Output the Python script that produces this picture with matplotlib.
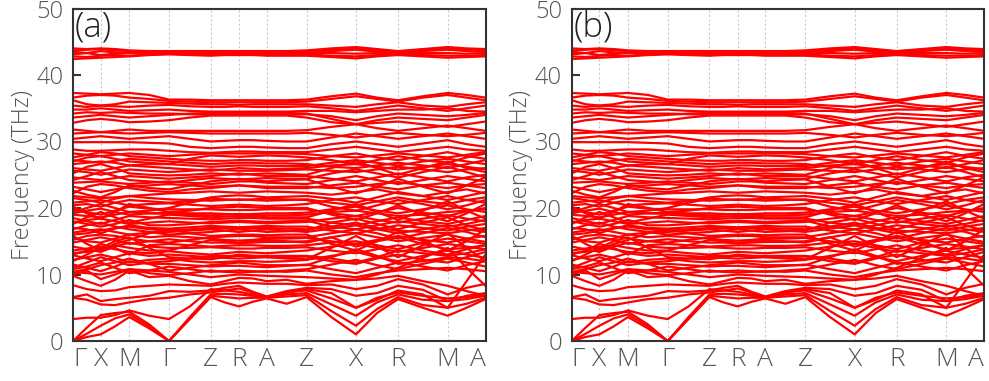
import numpy as np
import matplotlib
matplotlib.use("Agg")
import matplotlib.pyplot as plt

# ---------------- data ----------------
kpoint_labels = ["Γ", "X", "M", "Γ", "Z", "R", "A", "Z", "X", "R", "M", "A"]
kpoint_dist = [0, 27.7, 56.3, 96, 137.7, 166, 193.7, 233.7, 283, 325, 374.7, 412.5]
panel_labels = ["(a)", "(b)"]

# band frequencies (THz) at: Γ,m,X,m,M,m,Γ,m,Z,m,R,m,A,m,Z,m,X,m,R,m,M,m,A
low_bands = [
    [0, 0.6, 1.0, 2.2, 3.6, 1.9, 0, 3.3, 6.6, 5.8, 5.2, 5.9, 6.4, 5.6, 6.6, 3.6, 1.0, 4.2, 6.3, 5.0, 3.8, 5.0, 6.3],
    [0, 1.1, 2.3, 3.4, 4.0, 2.2, 0, 3.4, 6.8, 6.6, 6.4, 6.5, 6.5, 6.7, 6.9, 4.5, 2.3, 4.8, 6.6, 5.4, 5.0, 5.6, 6.5],
    [0, 2.0, 3.9, 4.2, 4.4, 2.5, 0, 3.6, 7.0, 7.1, 7.0, 6.8, 6.6, 7.0, 7.2, 5.5, 3.8, 5.8, 7.0, 6.2, 6.0, 6.3, 6.8],
    [3.3, 3.5, 3.5, 3.9, 4.6, 3.8, 3.3, 5.2, 7.8, 7.6, 7.4, 7.0, 6.6, 7.4, 7.6, 6.4, 5.0, 6.5, 7.3, 6.8, 6.4, 6.6, 7.0],
    [6.5, 6.2, 5.5, 5.4, 5.8, 6.3, 6.5, 7.0, 7.3, 7.6, 7.9, 7.3, 6.5, 7.2, 7.8, 7.2, 5.0, 6.2, 7.6, 7.0, 5.0, 9.0, 13.0],
    [6.6, 7.0, 6.0, 6.3, 6.5, 6.8, 7.5, 7.4, 7.6, 8.0, 8.3, 7.4, 6.7, 7.5, 8.0, 7.8, 6.8, 7.2, 8.3, 7.7, 6.0, 6.8, 7.2],
    [8.4, 7.8, 7.5, 7.6, 8.1, 8.3, 8.5, 8.4, 8.3, 8.6, 8.8, 8.7, 8.6, 8.6, 8.4, 8.5, 7.8, 8.3, 9.3, 8.5, 7.0, 8.0, 8.6],
    [9.8, 9.0, 8.3, 9.2, 10.6, 9.6, 9.8, 9.0, 8.5, 9.0, 9.5, 9.4, 9.0, 9.2, 8.6, 9.0, 9.2, 9.4, 9.8, 9.0, 8.3, 7.5, 6.8],
    [10.0, 10.6, 9.3, 10.0, 10.8, 10.2, 9.9, 10.2, 10.6, 10.4, 10.3, 10.4, 10.5, 10.4, 10.6, 10.0, 9.6, 10.2, 10.6, 10.8, 11.0, 10.8, 10.5],
    [10.4, 10.2, 10.0, 10.4, 10.8, 10.6, 10.4, 10.0, 9.6, 9.8, 10.0, 9.9, 9.8, 9.7, 9.6, 9.4, 9.2, 10.0, 11.0, 12.5, 14.0, 11.0, 8.3],
]

mid_bands = [
    [10.8, 11.2, 11.8, 11.0, 10.2, 10.6, 11.2, 10.8, 10.4, 10.5, 10.6, 10.5, 10.4, 10.6, 10.8, 11.5, 12.2, 11.4, 10.8, 11.6, 12.4, 11.8, 11.2],
    [11.5, 11.0, 10.5, 11.2, 12.0, 11.6, 11.6, 11.4, 11.2, 11.3, 11.3, 11.2, 11.1, 11.3, 11.5, 10.8, 10.2, 11.0, 11.8, 11.2, 10.6, 11.4, 12.0],
    [12.2, 12.6, 13.0, 12.5, 11.8, 12.2, 12.4, 12.0, 11.8, 11.9, 12.0, 12.0, 11.9, 12.0, 12.2, 12.8, 13.4, 12.6, 12.0, 12.8, 13.6, 13.0, 12.5],
    [12.9, 12.4, 12.0, 12.6, 13.2, 12.8, 13.0, 12.8, 12.6, 12.5, 12.4, 12.5, 12.6, 12.6, 12.7, 12.0, 11.6, 12.4, 13.0, 12.2, 11.8, 12.6, 13.4],
    [13.6, 13.9, 14.2, 13.8, 13.4, 13.2, 13.5, 13.2, 13.0, 13.2, 13.4, 13.3, 13.2, 13.4, 13.6, 14.2, 14.6, 14.0, 13.4, 14.0, 14.6, 14.2, 13.8],
    [14.2, 13.8, 13.4, 14.2, 14.8, 14.2, 14.0, 14.0, 14.1, 14.0, 13.9, 13.9, 14.0, 14.0, 14.1, 13.6, 13.2, 13.8, 14.4, 13.6, 13.0, 13.8, 14.4],
    [14.8, 15.2, 15.6, 15.2, 14.6, 15.0, 15.3, 15.0, 14.8, 14.8, 14.7, 14.8, 14.9, 14.9, 15.0, 15.6, 16.2, 15.6, 15.0, 15.5, 16.0, 15.4, 14.9],
    [15.5, 15.0, 14.8, 15.4, 16.0, 15.6, 15.8, 15.6, 15.4, 15.2, 15.1, 15.2, 15.4, 15.4, 15.5, 15.0, 14.6, 15.2, 15.8, 15.2, 14.8, 15.4, 15.8],
    [16.3, 16.6, 16.8, 16.4, 16.0, 16.3, 16.4, 16.6, 16.8, 16.6, 16.4, 16.6, 16.8, 16.6, 16.4, 16.9, 17.4, 16.8, 16.2, 16.8, 17.4, 16.8, 16.4],
    [17.0, 16.8, 16.2, 16.9, 17.4, 17.0, 16.9, 17.1, 17.3, 17.2, 17.1, 17.2, 17.3, 17.2, 17.2, 16.6, 16.2, 16.8, 17.4, 17.0, 16.6, 17.2, 17.6],
    [17.8, 18.2, 18.4, 18.0, 17.6, 17.8, 18.0, 17.8, 17.7, 17.8, 17.9, 17.8, 17.7, 17.8, 17.9, 18.4, 18.8, 18.2, 17.8, 18.4, 18.9, 18.4, 18.0],
    [18.5, 18.0, 17.6, 18.2, 18.8, 18.6, 18.5, 18.4, 18.3, 18.4, 18.5, 18.5, 18.4, 18.4, 18.4, 17.8, 17.4, 18.0, 18.6, 18.0, 17.6, 18.2, 18.8],
    [19.2, 19.6, 19.9, 19.4, 19.0, 19.2, 19.3, 19.2, 19.2, 19.1, 19.0, 19.1, 19.2, 19.2, 19.3, 19.8, 20.2, 19.6, 19.2, 19.8, 20.4, 19.8, 19.4],
    [19.8, 19.4, 19.0, 19.6, 20.2, 19.9, 19.8, 19.8, 19.8, 19.7, 19.7, 19.7, 19.8, 19.8, 19.8, 19.2, 18.8, 19.4, 20.0, 19.3, 18.8, 19.5, 20.0],
    [20.8, 21.0, 21.2, 20.8, 20.4, 20.6, 20.7, 20.5, 20.3, 20.4, 20.5, 20.4, 20.3, 20.4, 20.6, 21.2, 21.6, 21.0, 20.6, 21.2, 21.8, 21.2, 20.8],
    [21.5, 21.2, 20.8, 21.4, 21.8, 21.5, 21.3, 21.2, 21.1, 21.2, 21.3, 21.2, 21.1, 21.2, 21.3, 20.8, 20.4, 21.0, 21.6, 21.0, 20.6, 21.2, 21.6],
    [21.8, 21.6, 21.5, 21.6, 21.8, 22.0, 22.2, 22.3, 22.5, 22.4, 22.3, 22.4, 22.5, 22.4, 22.3, 22.0, 22.4, 22.8, 22.2, 21.8, 22.4, 22.8, 22.2],
    [22.2, 23.2, 23.6, 23.4, 23.0, 22.6, 22.4, 22.8, 23.0, 23.2, 23.4, 23.2, 23.0, 23.0, 23.0, 23.4, 23.8, 23.2, 22.8, 23.4, 23.8, 23.4, 23.0],
    [23.8, 23.9, 24.0, 23.8, 23.6, 23.8, 24.0, 23.8, 23.6, 23.8, 24.0, 24.0, 23.8, 23.7, 23.6, 24.2, 24.8, 24.2, 23.6, 24.2, 24.8, 24.4, 24.0],
    [24.6, 24.4, 24.2, 24.5, 24.8, 24.6, 24.4, 24.6, 24.8, 25.0, 25.2, 25.0, 24.8, 24.8, 24.8, 24.4, 24.0, 24.6, 25.2, 24.6, 24.0, 24.6, 25.0],
    [25.6, 25.4, 25.0, 25.4, 25.8, 25.6, 25.4, 25.6, 25.8, 25.7, 25.6, 25.6, 25.6, 25.7, 25.8, 25.6, 25.4, 25.8, 26.2, 25.8, 25.4, 25.8, 26.0],
    [26.6, 26.8, 27.0, 26.8, 26.4, 26.6, 26.6, 26.4, 26.2, 26.3, 26.4, 26.4, 26.3, 26.3, 26.3, 26.8, 27.2, 26.8, 26.4, 27.0, 27.4, 27.0, 26.6],
    [27.2, 27.0, 26.8, 27.1, 27.4, 27.2, 27.0, 26.8, 26.6, 26.7, 26.8, 26.8, 26.7, 26.7, 26.6, 26.2, 26.0, 26.4, 26.8, 26.4, 26.0, 26.6, 27.2],
    [27.6, 28.0, 28.4, 28.2, 27.8, 27.6, 27.4, 27.2, 27.1, 27.1, 27.2, 27.2, 27.1, 27.1, 27.2, 27.8, 28.2, 27.6, 27.2, 27.8, 28.4, 27.8, 27.4],
    [28.8, 28.6, 28.6, 28.7, 28.8, 28.8, 28.6, 28.4, 28.3, 28.4, 28.5, 28.5, 28.4, 28.4, 28.4, 28.8, 29.2, 28.8, 28.4, 28.8, 29.2, 28.8, 28.6],
    [29.9, 29.9, 29.9, 29.9, 29.9, 29.8, 29.7, 29.2, 29.0, 29.1, 29.2, 29.2, 29.1, 29.0, 29.0, 29.6, 30.0, 29.6, 29.2, 29.7, 30.2, 29.6, 29.2],
]

cross_bands = [
    [12.0, 13.0, 14.0, 15.0, 15.6, 14.0, 12.6, 12.4, 12.3, 12.6, 13.0, 12.8, 12.6, 12.4, 12.3, 14.0, 15.8, 14.2, 12.6, 14.4, 16.2, 14.0, 12.0],
    [15.8, 14.6, 13.6, 14.6, 15.2, 16.2, 16.8, 16.2, 15.8, 15.9, 16.0, 16.0, 15.9, 16.0, 16.0, 14.6, 13.6, 15.0, 16.4, 15.0, 13.6, 15.0, 16.8],
    [17.6, 18.6, 19.4, 18.6, 17.8, 18.4, 19.0, 18.8, 18.6, 18.7, 18.8, 18.8, 18.6, 18.6, 18.6, 19.6, 20.6, 19.4, 18.2, 19.6, 21.0, 19.6, 18.4],
    [20.2, 19.2, 18.4, 19.4, 20.6, 20.0, 19.4, 19.6, 20.0, 20.1, 20.2, 20.1, 20.0, 20.0, 20.0, 19.0, 18.2, 19.2, 20.4, 19.0, 18.0, 19.2, 20.6],
    [22.6, 22.0, 21.6, 22.4, 23.4, 23.0, 22.8, 23.4, 24.0, 24.2, 24.4, 24.2, 24.0, 24.2, 24.3, 23.2, 22.2, 23.2, 24.4, 23.2, 22.2, 23.4, 24.6],
    [25.2, 26.2, 26.6, 26.0, 25.2, 25.0, 24.9, 25.0, 25.2, 25.1, 25.0, 25.1, 25.2, 25.1, 25.0, 26.0, 27.0, 26.0, 25.0, 26.0, 27.0, 26.0, 25.4],
    [13.2, 13.4, 13.8, 14.4, 14.0, 13.6, 13.6, 14.4, 15.2, 15.0, 14.8, 15.0, 15.2, 15.0, 14.8, 15.6, 14.2, 15.0, 15.6, 14.6, 13.8, 14.0, 14.4],
    [11.0, 11.8, 12.6, 12.0, 11.4, 11.8, 12.0, 12.4, 12.8, 12.8, 12.8, 12.8, 12.8, 12.8, 12.8, 12.4, 11.8, 12.6, 13.6, 13.2, 12.8, 13.2, 13.8],
    [16.8, 17.4, 17.8, 17.2, 16.8, 16.4, 16.0, 16.2, 16.4, 16.6, 16.8, 16.6, 16.4, 16.5, 16.6, 17.8, 18.4, 17.6, 16.8, 17.8, 18.6, 17.4, 16.6],
    [24.2, 24.8, 25.4, 24.8, 24.2, 24.0, 23.8, 24.2, 24.5, 24.4, 24.3, 24.4, 24.5, 24.4, 24.4, 25.2, 25.8, 25.2, 24.6, 25.4, 26.2, 25.4, 24.6],
    [19.4, 20.0, 20.6, 20.0, 19.4, 19.6, 20.0, 20.8, 21.4, 21.3, 21.2, 21.3, 21.4, 21.3, 21.2, 20.2, 19.6, 20.4, 21.2, 20.6, 19.8, 20.4, 21.2],
    [27.0, 27.6, 27.8, 27.4, 27.0, 26.8, 26.6, 27.4, 27.9, 27.8, 27.7, 27.8, 27.9, 27.8, 27.6, 27.2, 26.6, 27.2, 27.8, 27.2, 26.8, 27.6, 28.2],
    [10.4, 10.8, 11.4, 11.8, 12.4, 11.6, 10.6, 11.0, 11.4, 11.6, 11.8, 11.6, 11.4, 11.4, 11.4, 12.6, 13.8, 12.8, 11.6, 12.0, 12.6, 12.4, 12.0],
    [13.0, 13.6, 14.6, 14.0, 13.0, 14.4, 14.6, 14.4, 14.2, 14.3, 14.4, 14.4, 14.3, 14.3, 14.4, 14.8, 15.0, 14.4, 13.8, 14.8, 15.4, 15.0, 14.6],
    [15.2, 15.8, 16.0, 15.8, 15.4, 15.0, 14.8, 15.2, 15.6, 15.7, 15.8, 15.8, 15.6, 15.6, 15.6, 16.2, 16.8, 16.2, 15.4, 16.2, 17.0, 16.4, 15.6],
    [18.0, 17.6, 17.2, 17.6, 18.2, 17.4, 17.4, 17.6, 17.9, 18.0, 18.1, 18.0, 17.9, 18.0, 18.1, 17.2, 16.8, 17.4, 18.0, 17.6, 17.2, 17.6, 18.2],
    [20.4, 20.6, 20.2, 20.8, 21.2, 21.0, 20.8, 21.0, 21.6, 21.8, 21.9, 21.8, 21.6, 21.7, 21.8, 21.4, 20.8, 21.6, 22.4, 21.8, 21.2, 21.8, 22.4],
    [23.2, 22.8, 22.4, 22.8, 23.2, 23.4, 23.6, 23.4, 23.2, 23.3, 23.4, 23.3, 23.2, 23.2, 23.2, 23.0, 23.2, 23.6, 23.9, 23.4, 23.0, 23.4, 23.6],
    [26.0, 25.8, 25.6, 26.0, 26.4, 26.2, 26.0, 25.8, 25.6, 25.8, 26.0, 25.9, 25.8, 25.9, 26.0, 26.4, 26.6, 26.2, 25.8, 26.2, 26.6, 26.2, 25.8],
    [28.2, 28.0, 27.8, 28.0, 28.2, 28.0, 27.8, 28.0, 28.2, 28.2, 28.2, 28.2, 28.2, 28.2, 28.1, 27.8, 27.6, 27.9, 28.2, 27.9, 27.6, 28.0, 28.4],
    [16.0, 16.2, 16.6, 17.0, 17.2, 16.8, 16.6, 16.8, 17.0, 17.0, 17.0, 17.0, 17.0, 16.9, 16.8, 17.2, 17.8, 17.0, 16.6, 16.4, 16.2, 16.6, 17.0],
    [19.0, 18.8, 18.6, 19.0, 19.4, 19.2, 19.1, 19.0, 18.9, 19.0, 19.1, 19.0, 18.9, 18.9, 19.0, 19.4, 19.6, 19.2, 18.8, 19.0, 19.4, 19.6, 19.8],
]

high_bands = [
    [37.3, 37.2, 37.1, 37.2, 37.3, 37.0, 36.3, 36.3, 36.2, 36.2, 36.2, 36.2, 36.2, 36.2, 36.3, 36.8, 37.2, 36.6, 36.2, 36.8, 37.3, 37.0, 36.6],
    [36.6, 36.9, 37.0, 36.9, 36.6, 36.4, 36.1, 36.0, 35.9, 35.9, 35.9, 35.9, 35.9, 35.9, 36.0, 36.4, 36.8, 36.4, 36.0, 36.6, 37.0, 36.6, 36.2],
    [36.2, 35.6, 35.4, 35.6, 36.0, 35.9, 35.8, 35.7, 35.6, 35.6, 35.5, 35.6, 35.6, 35.6, 35.6, 35.4, 35.2, 35.6, 35.9, 35.4, 35.2, 35.6, 35.9],
    [35.4, 35.2, 35.4, 35.3, 35.2, 35.4, 35.5, 35.3, 35.2, 35.2, 35.3, 35.2, 35.2, 35.2, 35.3, 35.0, 34.6, 35.0, 35.4, 35.0, 34.6, 35.0, 35.4],
    [34.8, 34.8, 35.0, 34.8, 34.6, 34.7, 34.8, 34.6, 34.5, 34.5, 34.5, 34.5, 34.5, 34.5, 34.6, 34.6, 34.4, 34.6, 34.8, 34.8, 35.0, 34.6, 34.5],
    [34.2, 34.4, 34.3, 34.4, 34.3, 34.2, 34.2, 34.1, 34.0, 34.0, 34.0, 34.0, 34.0, 34.0, 34.1, 33.8, 33.2, 33.8, 34.2, 34.0, 33.8, 34.0, 34.3],
    [33.6, 33.8, 34.0, 33.8, 33.6, 33.8, 34.0, 34.2, 34.3, 34.3, 34.3, 34.3, 34.3, 34.3, 34.2, 33.4, 32.6, 33.2, 33.6, 33.4, 33.2, 33.6, 34.0],
    [32.8, 33.2, 33.4, 33.2, 32.9, 33.0, 33.2, 33.6, 33.9, 33.9, 33.9, 33.9, 33.9, 33.9, 33.6, 32.9, 32.6, 32.8, 33.0, 32.6, 32.2, 32.6, 33.0],
    [31.8, 31.6, 31.4, 31.6, 31.8, 31.6, 31.6, 31.6, 31.6, 31.6, 31.6, 31.6, 31.6, 31.6, 31.7, 32.2, 32.6, 32.0, 31.6, 32.0, 32.4, 32.0, 31.6],
    [31.2, 31.3, 31.4, 31.3, 31.2, 31.3, 31.4, 31.3, 31.2, 31.2, 31.2, 31.2, 31.2, 31.2, 31.3, 31.0, 30.6, 31.0, 31.3, 31.0, 30.8, 31.0, 31.3],
    [30.4, 30.6, 30.8, 30.6, 30.4, 30.6, 30.8, 30.4, 30.0, 30.1, 30.2, 30.2, 30.1, 30.0, 30.0, 30.6, 31.2, 30.8, 30.4, 30.8, 31.2, 30.8, 30.4],
]

top_bands = [
    [42.4, 42.5, 42.6, 42.7, 42.8, 43.0, 43.1, 43.0, 42.9, 43.0, 43.0, 43.0, 42.9, 42.9, 42.9, 42.7, 42.5, 42.8, 43.0, 42.8, 42.6, 42.7, 42.8],
    [42.8, 42.7, 42.9, 43.0, 42.9, 43.1, 43.2, 43.1, 43.1, 43.1, 43.1, 43.1, 43.1, 43.1, 43.1, 42.9, 42.8, 43.0, 43.2, 43.0, 42.9, 42.9, 43.0],
    [43.1, 43.3, 43.0, 43.2, 43.4, 43.3, 43.3, 43.3, 43.3, 43.2, 43.3, 43.3, 43.3, 43.2, 43.3, 43.3, 43.2, 43.3, 43.3, 43.3, 43.3, 43.2, 43.3],
    [43.5, 43.3, 43.6, 43.4, 43.3, 43.4, 43.4, 43.4, 43.4, 43.4, 43.4, 43.4, 43.4, 43.4, 43.4, 43.6, 43.8, 43.5, 43.3, 43.6, 43.8, 43.6, 43.5],
    [43.7, 43.8, 43.9, 43.7, 43.6, 43.5, 43.5, 43.5, 43.5, 43.5, 43.5, 43.5, 43.5, 43.5, 43.6, 43.8, 44.0, 43.7, 43.5, 43.8, 44.0, 43.9, 43.7],
    [44.0, 43.9, 44.0, 43.9, 43.7, 43.6, 43.6, 43.6, 43.6, 43.6, 43.6, 43.6, 43.6, 43.6, 43.7, 44.0, 44.2, 43.9, 43.6, 43.9, 44.2, 44.0, 43.9],
]

y_ticks = [0, 10, 20, 30, 40, 50]

# ---------------- plotting ----------------
plt.rcParams["font.family"] = ["Open Sans", "DejaVu Sans"]
text_weight = "light"

kd = np.array(kpoint_dist, dtype=float)
kx = np.empty(2 * len(kd) - 1)
kx[0::2] = kd
kx[1::2] = 0.5 * (kd[:-1] + kd[1:])

all_bands = low_bands + mid_bands + cross_bands + high_bands + top_bands

fig = plt.figure(figsize=(9.89, 3.81), dpi=100)
axes_rects = [
    [73 / 989, 40 / 381, 412.5 / 989, 332.5 / 381],
    [571.7 / 989, 40 / 381, 412.5 / 989, 332.5 / 381],
]
text_gray = "#555555"

for rect, plab in zip(axes_rects, panel_labels):
    ax = fig.add_axes(rect)
    for band in all_bands:
        ax.plot(kx, band, color="red", lw=1.6, solid_joinstyle="round",
                solid_capstyle="round", zorder=2)
    for xv in kd[1:-1]:
        ax.axvline(xv, color="#c8c8c8", lw=0.8, ls=(0, (2, 2)), zorder=1)
    ax.set_xlim(kd[0], kd[-1])
    ax.set_ylim(0, 50)
    ax.set_yticks(y_ticks)
    ax.set_xticks(kd)
    ax.set_xticklabels(kpoint_labels)
    for lab in ax.get_xticklabels() + ax.get_yticklabels():
        lab.set_fontweight(text_weight)
    tl = ax.get_xticklabels()
    tl[0].set_ha("left")
    tl[-1].set_ha("right")
    ax.tick_params(axis="x", length=0, pad=4, labelsize=19, labelcolor=text_gray)
    ax.tick_params(axis="y", direction="in", length=6, width=1.5,
                   color="#333333", pad=7, labelsize=17, labelcolor=text_gray)
    for sp in ax.spines.values():
        sp.set_color("#333333")
        sp.set_linewidth(1.5)
    ax.set_ylabel("Frequency (THz)", fontsize=17, color=text_gray,
                  fontweight=text_weight, labelpad=1)
    ax.text(0.004, 0.995, plab, transform=ax.transAxes, ha="left", va="top",
            fontsize=25, color="#222222", fontweight=text_weight, zorder=5)

fig.savefig("out.png", dpi=100)
